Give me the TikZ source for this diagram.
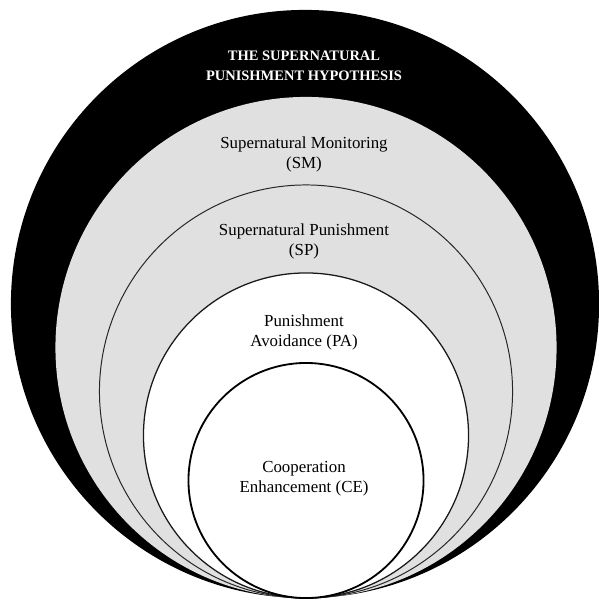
\documentclass[tikz,border=0pt]{standalone}
\usepackage{fontspec}
\setmainfont{Liberation Serif}
\usepackage{tikz}
\usetikzlibrary{positioning}

\definecolor{ringgray}{RGB}{224,224,224}

\begin{document}
\begin{tikzpicture}[
    x=0.025cm, y=-0.025cm,
    ring/.style={circle, inner sep=0pt, outer sep=0pt},
    label/.style={align=center, font=\fontsize{12}{14.2}\selectfont},
    title/.style={align=center, text=white, font=\fontsize{10.3}{14.2}\selectfont\bfseries}
]
\useasboundingbox (0,0) rectangle (598,603);

% Rings
\node[ring, fill=black, minimum size=14.7cm] (hyp) at (305,304) {};
\node[ring, fill=ringgray, minimum size=12.525cm] (sm) at (306,347.5) {};
\node[ring, fill=ringgray, draw=black!85, line width=0.7pt, minimum size=10.325cm] (sp) at (306,391.5) {};
\node[ring, fill=white, draw=black!90, line width=0.9pt, minimum size=8.125cm] (pa) at (306,435.5) {};
\node[ring, fill=white, draw=black, line width=1.3pt, minimum size=5.875cm] (ce) at (306,480.5) {};

% Labels
\node[title] (hyptext) at (304,66) {THE SUPERNATURAL\\PUNISHMENT HYPOTHESIS};
\node[label] (smtext) at (304,154) {Supernatural Monitoring\\(SM)};
\node[label] (sptext) at (304,241.5) {Supernatural Punishment\\(SP)};
\node[label] (patext) at (304,332) {Punishment\\Avoidance (PA)};
\node[label] (cetext) at (304,479) {Cooperation\\Enhancement (CE)};

\end{tikzpicture}
\end{document}
